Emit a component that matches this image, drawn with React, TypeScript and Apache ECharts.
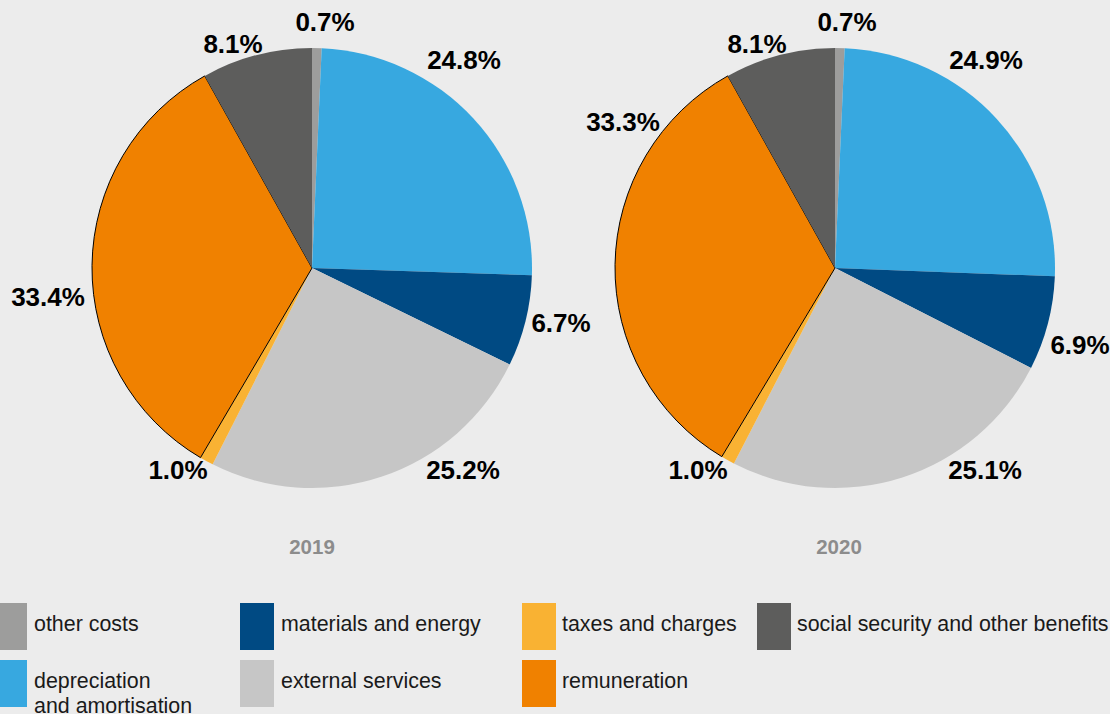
import React, { useEffect, useRef } from "react";
import * as echarts from "echarts";

const categories = [
  "other costs",
  "depreciation and amortisation",
  "materials and energy",
  "external services",
  "taxes and charges",
  "remuneration",
  "social security and other benefits",
];
const legendLabels = [
  "other costs",
  "depreciation\nand amortisation",
  "materials and energy",
  "external services",
  "taxes and charges",
  "remuneration",
  "social security and other benefits",
];
const colors = ["#9d9d9c", "#37a8e0", "#004a83", "#c6c6c6", "#f9b233", "#f08100", "#5d5d5c"];
const years = ["2019", "2020"];
const values2019 = [0.7, 24.8, 6.7, 25.2, 1.0, 33.4, 8.1];
const values2020 = [0.7, 24.9, 6.9, 25.1, 1.0, 33.3, 8.1];

// layout (style): pie centres and label offsets from each pie centre
const pieCenters: [number, number][] = [
  [312, 268],
  [835, 268],
];
const labelOffsets: [number, number][][] = [
  [[13, -246], [152, -208], [249, 55], [151, 202], [-134, 202], [-264, 29], [-79, -224]],
  [[12, -246], [151, -208], [245, 77], [150, 202], [-137, 202], [-212, -146], [-78, -224]],
];
// legend layout: [squareX, squareY, squareW, textX] per category index
const legendLayout: Record<number, [number, number, number, number]> = {
  0: [-7, 603, 34, 34],
  1: [-7, 660, 34, 34],
  2: [240, 603, 34, 281],
  3: [240, 660, 34, 281],
  4: [522, 603, 34, 562],
  5: [522, 660, 34, 562],
  6: [757, 603, 34, 797],
};
const FONT = "'Liberation Sans', Arial, sans-serif";

export default function App() {
  const ref = useRef<HTMLDivElement>(null);
  useEffect(() => {
    if (!ref.current) return;
    const chart = echarts.init(ref.current, null, { renderer: "svg" });
    const makeSeries = (vals: number[], si: number) => ({
      type: "pie",
      center: pieCenters[si],
      radius: [0, 220],
      startAngle: 90,
      clockwise: true,
      avoidLabelOverlap: false,
      label: {
        show: true,
        position: "outside",
        formatter: (p: any) => p.value.toFixed(1) + "%",
        fontSize: 26,
        fontWeight: "bold",
        color: "#000",
        fontFamily: FONT,
      },
      labelLine: { show: false, length: 10, length2: 2 },
      labelLayout: (p: any) => {
        const off = labelOffsets[si][p.dataIndex];
        return {
          x: pieCenters[si][0] + off[0],
          y: pieCenters[si][1] + off[1],
          align: "center",
          verticalAlign: "middle",
        };
      },
      emphasis: { disabled: true },
      data: vals.map((v, i) => ({
        name: categories[i],
        value: v,
        itemStyle: {
          color: colors[i],
          borderColor: i === 5 ? "#000" : colors[i],
          borderWidth: i === 5 ? 1 : 0,
        },
      })),
    });
    const legendGraphics: any[] = [];
    categories.forEach((_, i) => {
      const [sx, sy, sw, tx] = legendLayout[i];
      legendGraphics.push({
        type: "rect",
        shape: { x: sx, y: sy, width: sw, height: 47 },
        style: { fill: colors[i] },
      });
      legendGraphics.push({
        type: "text",
        x: tx,
        y: sy + 8,
        style: {
          text: legendLabels[i],
          fill: "#1a1a1a",
          font: "21.4px " + FONT,
          lineHeight: 25,
        },
      });
    });
    chart.setOption({
      animation: false,
      backgroundColor: "#ececec",
      title: years.map((y, i) => ({
        text: y,
        left: i === 0 ? 307 : 834,
        top: 531,
        textAlign: "center",
        textStyle: { fontSize: 20.5, fontWeight: "bold", color: "#8c8c8c", fontFamily: FONT },
      })),
      series: [makeSeries(values2019, 0), makeSeries(values2020, 1)],
      graphic: legendGraphics,
    });
    return () => chart.dispose();
  }, []);
  return (
    <div
      ref={ref}
      style={{ position: "fixed", left: 0, top: 0, width: 1110, height: 714 }}
    />
  );
}
